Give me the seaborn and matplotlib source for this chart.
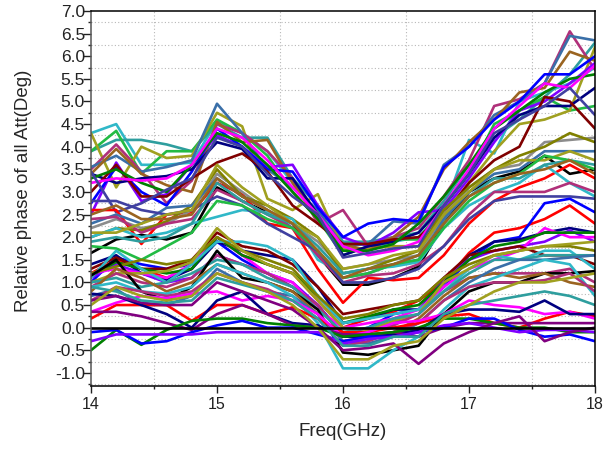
import matplotlib
matplotlib.use("Agg")
import matplotlib.pyplot as plt
from matplotlib.ticker import MultipleLocator, FormatStrFormatter
import numpy as np
import pandas as pd
import seaborn as sns

# Frequency sweep (GHz)
freq_ghz = [14.0, 14.2, 14.4, 14.6, 14.8, 15.0, 15.2, 15.4, 15.6, 15.8,
            16.0, 16.2, 16.4, 16.6, 16.8, 17.0, 17.2, 17.4, 17.6, 17.8, 18.0]

# Relative phase (deg) of each attenuation state vs. the reference state
# --- highest group ---
a01 = [4.3, 4.5, 3.6, 3.6, 3.65, 4.55, 4.3, 3.9, 3.2, 2.5, 1.7, 1.75, 1.9, 2.0, 2.6, 4.15, 3.85, 5.0, 5.2, 5.4, 5.75]
a02 = [3.9, 4.15, 4.15, 4.05, 3.9, 4.5, 4.2, 4.2, 3.3, 2.7, 1.9, 1.9, 2.0, 2.1, 2.8, 3.6, 4.2, 4.6, 5.1, 5.6, 6.3]
a03 = [3.9, 4.35, 3.4, 3.9, 3.9, 4.6, 4.3, 3.8, 3.0, 2.4, 1.6, 1.8, 1.95, 1.95, 2.7, 3.4, 4.5, 4.8, 5.1, 4.8, 4.9]
a04 = [4.3, 3.1, 4.0, 3.75, 3.8, 4.75, 4.45, 2.85, 2.6, 2.95, 1.75, 1.75, 1.8, 1.8, 2.4, 3.2, 3.9, 4.5, 4.6, 4.8, 6.2]
a05 = [3.5, 4.05, 3.45, 2.75, 3.25, 4.5, 4.3, 3.9, 3.3, 2.3, 2.6, 1.8, 2.0, 2.2, 2.9, 3.7, 4.9, 5.05, 5.4, 6.55, 5.7]
a06 = [3.55, 3.8, 3.45, 3.55, 3.7, 4.95, 4.3, 3.5, 3.1, 2.6, 1.8, 1.85, 2.35, 2.3, 3.6, 4.0, 4.7, 5.0, 5.4, 6.45, 6.35]
a07 = [3.4, 3.95, 3.4, 3.15, 3.0, 4.55, 4.1, 4.15, 3.2, 2.4, 1.85, 1.7, 2.0, 2.45, 3.5, 4.1, 4.6, 5.2, 5.3, 6.1, 5.9]
a08 = [2.5, 3.65, 2.8, 2.95, 3.6, 4.25, 4.0, 3.55, 3.6, 2.7, 2.0, 1.8, 2.1, 2.55, 2.6, 3.3, 4.1, 4.8, 5.0, 5.4, 5.85]
a09 = [2.75, 3.55, 3.0, 2.7, 3.45, 4.4, 4.0, 3.5, 3.45, 2.65, 2.0, 2.3, 2.4, 2.35, 3.55, 4.0, 4.6, 5.0, 5.6, 5.6, 6.0]
a10 = [3.4, 3.2, 3.3, 3.35, 3.5, 4.1, 3.95, 3.3, 3.3, 2.5, 1.6, 1.8, 1.9, 2.1, 2.7, 3.4, 4.2, 4.7, 4.9, 4.9, 5.3]
a11 = [3.0, 3.6, 2.9, 2.9, 3.3, 3.65, 3.85, 3.45, 2.7, 2.3, 1.85, 1.85, 1.95, 2.0, 2.5, 3.2, 3.7, 4.0, 5.1, 5.0, 4.4]
a12 = [3.3, 3.5, 3.2, 3.0, 3.6, 4.3, 4.1, 3.6, 3.0, 2.4, 1.7, 1.7, 1.85, 2.3, 2.9, 3.6, 4.4, 4.8, 5.2, 5.5, 5.6]
a13 = [3.2, 3.3, 3.25, 3.3, 3.6, 4.4, 4.2, 3.7, 3.1, 2.5, 1.8, 1.6, 1.7, 1.9, 2.7, 3.5, 4.4, 4.9, 5.4, 5.3, 5.8]
a14 = [3.45, 2.55, 2.75, 3.05, 3.3, 4.2, 4.0, 3.4, 2.9, 2.5, 1.55, 1.65, 1.75, 1.8, 2.7, 3.4, 4.3, 4.6, 4.9, 5.3, 4.7]
# --- upper-middle group ---
b01 = [1.65, 1.95, 2.05, 1.95, 2.1, 3.1, 2.8, 2.55, 2.3, 1.6, 0.95, 0.95, 1.1, 1.35, 2.3, 3.0, 3.3, 3.45, 3.8, 3.4, 3.5]
b02 = [2.6, 2.6, 1.85, 2.5, 2.55, 3.2, 2.95, 2.3, 2.2, 1.3, 0.55, 1.1, 1.05, 1.1, 1.6, 2.3, 2.8, 3.1, 3.3, 3.6, 3.3]
b03 = [2.2, 2.4, 2.2, 2.3, 2.6, 3.4, 3.0, 2.6, 2.3, 1.9, 1.3, 1.4, 1.5, 1.6, 2.5, 3.1, 3.5, 3.6, 4.1, 4.15, 4.2]
b04 = [2.0, 2.2, 2.15, 2.35, 2.7, 3.5, 2.9, 2.7, 2.4, 2.0, 1.2, 1.3, 1.5, 1.7, 2.6, 3.1, 3.5, 3.8, 4.0, 4.3, 4.1]
b05 = [2.3, 2.5, 2.3, 2.65, 2.7, 3.3, 2.9, 2.6, 2.2, 1.6, 1.1, 1.2, 1.4, 1.5, 2.4, 3.0, 3.4, 3.5, 3.9, 3.9, 3.9]
b06 = [2.0, 2.2, 2.0, 2.1, 2.3, 2.45, 2.6, 2.55, 2.4, 1.5, 1.2, 1.3, 1.35, 1.45, 2.2, 2.7, 3.0, 3.2, 3.6, 3.2, 2.9]
b07 = [2.4, 2.45, 2.1, 2.3, 2.4, 3.05, 2.8, 2.5, 2.2, 1.6, 1.0, 1.15, 1.2, 1.4, 1.8, 2.5, 3.0, 3.0, 3.0, 3.2, 3.0]
b08 = [2.8, 2.8, 2.6, 2.5, 2.6, 2.9, 2.7, 2.3, 2.0, 1.7, 1.0, 1.0, 1.1, 1.3, 1.8, 2.4, 2.8, 2.9, 2.9, 2.9, 2.85]
b09 = [2.1, 2.1, 2.3, 2.5, 2.6, 3.6, 3.1, 2.7, 2.3, 2.0, 1.3, 1.4, 1.6, 1.7, 2.5, 3.0, 3.5, 3.7, 3.7, 3.9, 3.7]
b10 = [1.9, 2.0, 1.9, 2.0, 2.3, 3.2, 2.8, 2.5, 2.3, 1.8, 1.2, 1.3, 1.4, 1.6, 2.3, 2.9, 3.3, 3.3, 3.6, 3.7, 3.6]
b11 = [1.8, 1.75, 1.5, 1.8, 2.1, 2.8, 2.7, 2.4, 2.2, 1.7, 1.1, 1.2, 1.4, 1.5, 2.2, 2.8, 3.2, 3.4, 3.8, 3.7, 3.5]
b12 = [2.5, 2.7, 2.4, 2.4, 2.5, 3.3, 2.9, 2.6, 2.3, 1.7, 1.1, 1.3, 1.4, 1.6, 2.3, 2.9, 3.2, 3.4, 3.5, 3.7, 3.4]
# --- lower-middle group ---
c01 = [1.2, 1.5, 1.3, 1.1, 1.3, 2.0, 1.6, 1.4, 1.2, 0.6, 0.0, 0.2, 0.35, 0.6, 1.0, 1.65, 2.1, 2.2, 2.4, 2.7, 2.3]
c02 = [1.0, 1.55, 1.4, 1.3, 1.4, 1.9, 1.5, 1.2, 0.9, 0.5, -0.15, 0.0, 0.3, 0.4, 0.9, 1.5, 1.9, 2.0, 2.75, 2.85, 2.55]
c03 = [1.4, 1.6, 1.2, 1.05, 1.3, 1.9, 1.7, 1.6, 1.5, 0.9, 0.1, 0.2, 0.4, 0.4, 1.0, 1.6, 1.9, 1.95, 2.1, 2.2, 2.1]
c04 = [1.1, 1.4, 1.2, 1.0, 1.1, 1.6, 1.4, 1.2, 1.0, 0.5, -0.2, -0.1, 0.1, 0.3, 1.1, 1.5, 1.7, 1.8, 1.9, 2.15, 1.9]
c05 = [1.2, 1.3, 1.2, 1.1, 1.4, 2.0, 1.6, 1.2, 1.0, 0.4, 0.0, 0.1, 0.2, 0.4, 0.9, 1.3, 1.5, 1.7, 2.2, 2.0, 2.0]
c06 = [1.3, 1.55, 1.3, 1.3, 1.5, 2.1, 1.8, 1.7, 1.4, 0.9, 0.3, 0.4, 0.5, 0.6, 1.1, 1.6, 1.7, 1.8, 1.6, 1.6, 1.4]
c07 = [1.15, 1.45, 1.3, 1.2, 1.3, 2.0, 1.6, 1.4, 1.2, 0.7, 0.1, 0.25, 0.4, 0.5, 1.0, 1.5, 1.8, 1.9, 2.1, 2.1, 2.1]
c08 = [1.1, 1.7, 1.3, 1.0, 1.4, 1.9, 1.9, 1.8, 1.5, 0.7, 0.1, 0.2, 0.3, 0.4, 0.8, 1.3, 1.6, 1.5, 1.7, 1.7, 1.3]
c09 = [1.2, 1.35, 1.5, 1.4, 1.5, 2.0, 1.7, 1.5, 1.3, 0.7, 0.2, 0.3, 0.5, 0.6, 1.1, 1.4, 1.6, 1.7, 1.8, 1.8, 1.7]
c10 = [1.0, 1.2, 1.2, 1.25, 1.45, 2.2, 1.7, 1.4, 1.2, 0.6, 0.0, -0.05, 0.15, 0.3, 1.0, 1.3, 1.6, 1.7, 1.8, 1.85, 1.9]
c11 = [0.9, 1.2, 1.0, 0.9, 1.1, 1.6, 1.4, 1.2, 0.9, 0.5, -0.2, -0.1, 0.05, 0.3, 0.8, 1.1, 1.2, 1.2, 1.2, 1.3, 1.0]
c12 = [1.0, 1.1, 0.9, 1.0, 1.2, 1.5, 1.4, 1.1, 0.9, 0.4, -0.1, 0.0, 0.2, 0.3, 0.8, 1.2, 1.5, 1.5, 1.6, 1.6, 1.6]
c13 = [1.15, 1.5, 0.8, 0.6, 0.9, 1.7, 1.1, 1.0, 0.8, 0.4, -0.55, -0.6, -0.5, -0.4, 0.3, 0.8, 1.0, 1.0, 1.2, 1.2, 1.25]
c14 = [0.8, 1.3, 1.1, 0.8, 1.0, 1.4, 1.2, 1.0, 0.8, 0.3, -0.3, -0.2, -0.1, 0.2, 0.7, 1.1, 1.2, 1.1, 1.2, 1.0, 0.9]
c15 = [0.7, 0.85, 0.5, 0.5, 0.7, 1.3, 1.0, 0.8, 0.7, 0.3, -0.3, -0.35, -0.2, 0.1, 0.6, 1.0, 1.3, 1.5, 1.5, 1.55, 1.6]
c16 = [0.9, 1.0, 0.8, 0.75, 0.9, 1.4, 1.2, 1.0, 0.7, 0.1, -0.9, -0.9, -0.5, -0.2, 0.4, 0.9, 1.1, 1.3, 1.5, 1.4, 0.7]
c17 = [0.6, 0.9, 0.8, 0.7, 0.8, 1.2, 1.0, 0.85, 0.6, 0.2, -0.4, -0.3, -0.1, 0.1, 0.6, 0.9, 1.0, 1.0, 1.05, 1.2, 0.8]
# --- lowest group ---
d01 = [0.2, 0.5, 0.5, 0.5, 0.15, 0.5, 0.5, 0.3, 0.45, 0.2, -0.1, -0.1, 0.0, 0.1, 0.25, 0.3, 0.1, 0.0, 0.2, 0.35, 0.25]
d02 = [0.35, 0.55, 0.7, 0.65, 0.75, 0.8, 0.6, 0.7, 0.6, 0.3, -0.2, -0.1, 0.1, 0.15, 0.3, 0.6, 0.5, 0.45, 0.3, 0.35, 0.2]
d03 = [0.75, 0.7, 0.5, 0.3, 0.0, 0.6, 0.8, 0.3, 0.1, 0.05, -0.2, -0.2, -0.15, -0.05, 0.3, 0.4, 0.4, 0.35, 0.6, 0.3, 0.3]
d04 = [0.35, 0.35, 0.25, 0.1, -0.05, 0.3, 0.5, 0.3, 0.05, 0.0, -0.15, -0.15, -0.1, -0.2, 0.0, 0.1, 0.1, 0.1, 0.1, 0.1, 0.1]
d05 = [-0.5, -0.05, -0.38, -0.05, 0.15, 0.2, 0.2, 0.1, 0.05, 0.0, -0.2, -0.15, -0.1, 0.0, 0.2, 0.2, 0.1, 0.0, 0.0, -0.1, -0.1]
d06 = [-0.1, -0.05, -0.35, -0.3, -0.1, 0.05, 0.15, 0.0, 0.0, -0.15, -0.3, -0.2, -0.2, -0.1, 0.0, 0.2, 0.2, -0.05, -0.2, -0.15, -0.3]
d07 = [-0.3, -0.15, -0.15, -0.15, -0.15, -0.1, -0.1, -0.1, -0.1, -0.1, -0.35, -0.25, -0.2, -0.1, 0.05, 0.1, 0.0, -0.1, -0.05, -0.05, -0.1]
d08 = [0.6, 0.7, 0.55, 0.5, 0.5, 1.0, 0.8, 0.6, 0.4, 0.0, -0.5, -0.45, -0.35, -0.8, -0.35, -0.1, 0.1, 0.25, -0.3, -0.1, 0.0]
d09 = [0.9, 0.8, 0.6, 0.55, 0.6, 1.1, 0.95, 0.8, 0.6, 0.2, -0.4, -0.4, -0.2, -0.2, 0.3, 0.5, 0.6, 0.7, 0.8, 0.7, 0.5]
d10 = [0.5, 0.9, 0.7, 0.6, 0.7, 1.2, 1.0, 0.8, 0.5, 0.0, -0.7, -0.7, -0.4, -0.3, 0.2, 0.5, 0.8, 1.0, 1.0, 1.1, 1.2]
# reference state
ref = [0.0] * len(freq_ghz)

BLACK, RED, BLUE, MAGENTA = "#000000", "#FF0000", "#0000FF", "#FF00FF"
OLIVE, NAVY, VIOLET, PURPLE = "#808000", "#000080", "#8000FF", "#800080"
WINE, GREEN, DCYAN, STEEL = "#800000", "#008000", "#2E9E9E", "#3A6FA8"
PINK, LGREEN, YGREEN, BROWN = "#B0307A", "#22BB44", "#A0A020", "#9A6420"
CYAN, GRAY, SLATE = "#30B8C8", "#8C8C8C", "#4040A0"

series = [
    (a01, CYAN), (a02, DCYAN), (a03, LGREEN), (a04, YGREEN), (a05, PINK),
    (a06, STEEL), (a07, BROWN), (a08, VIOLET), (a09, BLUE), (a10, NAVY),
    (a11, WINE), (a12, GREEN), (a13, MAGENTA), (a14, SLATE),
    (b01, BLACK), (b02, RED), (b03, GRAY), (b04, OLIVE), (b05, STEEL),
    (b06, CYAN), (b07, PINK), (b08, SLATE), (b09, YGREEN), (b10, DCYAN),
    (b11, LGREEN), (b12, BROWN),
    (c01, RED), (c02, BLUE), (c03, NAVY), (c04, VIOLET), (c05, MAGENTA),
    (c06, WINE), (c07, GREEN), (c08, CYAN), (c09, OLIVE), (c10, YGREEN),
    (c11, PINK), (c12, DCYAN), (c13, BLACK), (c14, BROWN), (c15, STEEL),
    (c16, CYAN), (c17, PINK),
    (d01, RED), (d02, MAGENTA), (d03, NAVY), (d04, PURPLE), (d05, GREEN),
    (d06, BLUE), (d07, VIOLET), (d08, PURPLE), (d09, DCYAN), (d10, YGREEN),
    (ref, BLACK),
]

rows = []
for k, (vals, _) in enumerate(series):
    for f, v in zip(freq_ghz, vals):
        rows.append({"freq": f, "phase": v, "state": f"S{k:02d}"})
df = pd.DataFrame(rows)
palette = {f"S{k:02d}": c for k, (_, c) in enumerate(series)}

sns.set_style("ticks")
plt.rcParams["font.family"] = ["Liberation Sans", "DejaVu Sans"]

fig = plt.figure(figsize=(6.16, 4.53), dpi=100)
ax = fig.add_axes([91 / 616, 67 / 453, 504 / 616, 375 / 453])

sns.lineplot(data=df, x="freq", y="phase", hue="state", palette=palette,
             legend=False, linewidth=1.9, ax=ax, sort=False,
             estimator=None)

ax.set_xlim(14, 18)
ax.set_ylim(-1.29, 7.0)
ax.xaxis.set_major_locator(MultipleLocator(1))
ax.xaxis.set_minor_locator(MultipleLocator(0.5))
ax.yaxis.set_major_locator(MultipleLocator(0.5))
ax.yaxis.set_minor_locator(MultipleLocator(0.25))
ax.yaxis.set_major_formatter(FormatStrFormatter("%.1f"))
ax.xaxis.set_major_formatter(FormatStrFormatter("%d"))

# dotted grid on the minor positions
ax.grid(False)
ax.grid(which="minor", axis="both", linestyle=(0, (1, 2)), color="#b8b8b8",
        linewidth=0.8)
ax.set_axisbelow(True)

ax.tick_params(which="major", direction="out", width=1.0, colors="#222222")
ax.tick_params(which="minor", direction="out", length=2.5, width=1.0)
ax.tick_params(axis="y", which="major", length=5.5, pad=-1.2, labelsize=12.5)
ax.tick_params(axis="x", which="major", length=5.0, pad=3.0, labelsize=11.5)
for sp in ax.spines.values():
    sp.set_visible(True)
    sp.set_linewidth(1.1)
    sp.set_color("#000000")
ax.spines["left"].set_color("#555555")

ax.set_xlabel("Freq(GHz)", fontsize=13.5)
ax.set_ylabel("Relative phase of all Att(Deg)", fontsize=13.5)
ax.xaxis.set_label_coords(0.5, -0.098)
ax.yaxis.set_label_coords(-0.118, 0.52)

fig.savefig("out.png", dpi=100)
